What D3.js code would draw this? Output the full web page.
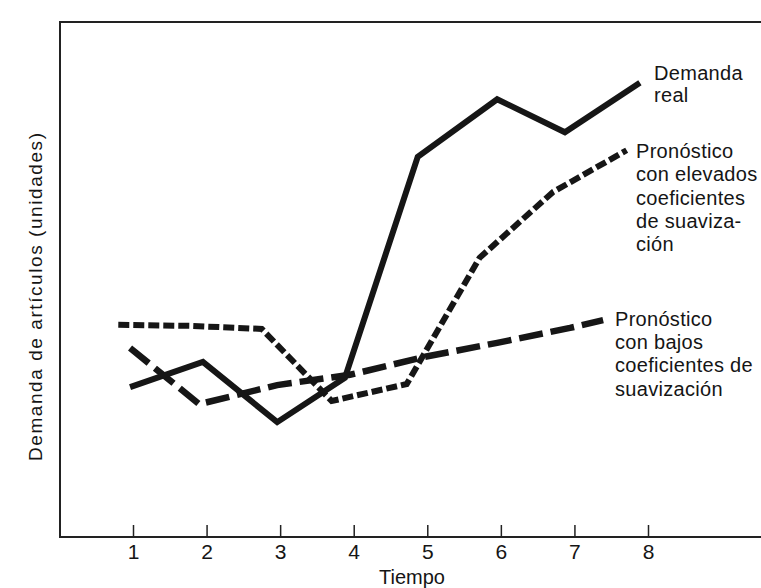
<!DOCTYPE html>
<html>
<head>
<meta charset="utf-8">
<script src="https://cdn.jsdelivr.net/npm/d3@7"></script>
<style>
  body { margin: 0; background: #ffffff; }
  text { font-family: "Liberation Sans", Arial, Helvetica, sans-serif; fill: #151515; }
</style>
</head>
<body>
<script>
// tick labels on the time axis
const periods = [1, 2, 3, 4, 5, 6, 7, 8];

// series (time, demand in arbitrary units)
const realTime = [0.96, 1.95, 2.96, 3.88, 4.87, 5.95, 6.87, 7.89];
const realValues = [29.1, 34.0, 22.3, 30.9, 73.8, 85.0, 78.6, 88.2];

const highTime = [0.8, 1.77, 2.75, 3.7, 4.72, 5.71, 6.71, 7.71];
const highValues = [41.2, 41.0, 40.4, 26.4, 29.7, 54.2, 67.0, 75.1];

const lowTime = [0.96, 1.9, 2.96, 3.95, 4.97, 5.95, 6.94, 7.39];
const lowValues = [36.7, 25.8, 29.5, 31.5, 35.0, 37.7, 40.6, 42.1];

// label lines for each series
const realLabel = ["Demanda", "real"];
const highLabel = ["Pronóstico", "con elevados", "coeficientes", "de suaviza-", "ción"];
const lowLabel = ["Pronóstico", "con bajos", "coeficientes de", "suavización"];

const w = 761;
const h = 588;
const frameLeft = 60;
const frameTop = 22;
const frameBottom = 537;

const svg = d3.select("body").append("svg").attr("width", w).attr("height", h);

// X and Y scales
const xScale = d3.scaleLinear().domain([1, 8]).range([133, 648]);
const yScale = d3.scaleLinear().domain([0, 100]).range([frameBottom, frameTop]);

// frame: left and top edges, bottom line runs off the page
svg
  .append("path")
  .attr("d", `M${w},${frameTop}H${frameLeft}V${frameBottom}H${w}`)
  .attr("fill", "none")
  .attr("stroke", "#222")
  .attr("stroke-width", 2);

// x axis with ticks pointing up
const xAxis = d3
  .axisBottom(xScale)
  .tickValues(periods)
  .tickFormat(d3.format("d"))
  .tickSizeInner(-12)
  .tickSizeOuter(0)
  .tickPadding(7);
const gx = svg
  .append("g")
  .attr("transform", "translate(0, " + frameBottom + ")")
  .call(xAxis);
gx.select(".domain").remove();
gx.selectAll(".tick line").attr("stroke", "#222").attr("stroke-width", 1.5);
gx.selectAll(".tick text")
  .attr("font-size", 21)
  .attr("font-family", '"Liberation Sans", Arial, sans-serif')
  .attr("fill", "#151515");

// axis titles
svg
  .append("text")
  .attr("x", 412)
  .attr("y", 584)
  .attr("text-anchor", "middle")
  .style("font-size", "20px")
  .text("Tiempo");

svg
  .append("text")
  .attr("transform", "translate(42, 297) rotate(-90)")
  .attr("text-anchor", "middle")
  .attr("textLength", 328)
  .attr("lengthAdjust", "spacing")
  .style("font-size", "19px")
  .text("Demanda de artículos (unidades)");

// lines
const line = d3
  .line()
  .x((d) => xScale(d[0]))
  .y((d) => yScale(d[1]));

const series = [
  { t: lowTime, v: lowValues, dash: "24,8", width: 6.5 },
  { t: highTime, v: highValues, dash: "11,4", width: 6 },
  { t: realTime, v: realValues, dash: null, width: 6 },
];

series.forEach((s) => {
  svg
    .append("path")
    .datum(d3.zip(s.t, s.v))
    .attr("d", line)
    .attr("fill", "none")
    .attr("stroke", "#161616")
    .attr("stroke-width", s.width)
    .attr("stroke-linejoin", "miter")
    .attr("stroke-dasharray", s.dash);
});

// labels next to the lines
function addLabel(lines, x, y0, step) {
  svg
    .append("g")
    .selectAll("text")
    .data(lines)
    .enter()
    .append("text")
    .attr("x", x)
    .attr("y", (d, i) => y0 + i * step)
    .style("font-size", "20px")
    .style("letter-spacing", "0.3px")
    .text((d) => d);
}

addLabel(realLabel, 654, 80, 22);
addLabel(highLabel, 636, 158, 23.3);
addLabel(lowLabel, 615, 326, 23.2);
</script>
</body>
</html>
